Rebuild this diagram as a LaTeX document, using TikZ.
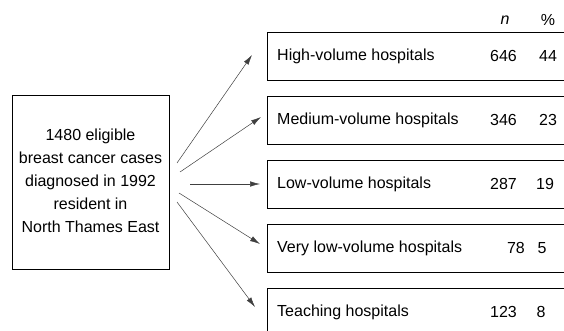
\documentclass[tikz,border=0pt]{standalone}
\usepackage{fontspec}
\setmainfont{Liberation Sans}
\usetikzlibrary{arrows.meta}
\begin{document}
\begin{tikzpicture}[x=1pt,y=-1pt,
  txt/.style={font=\fontsize{16}{23}\selectfont, inner sep=0pt},
  srcbox/.style={draw, line width=0.7pt, inner sep=0pt},
  grpbox/.style={draw, line width=0.7pt, minimum width=340pt, minimum height=48pt, anchor=north west, inner sep=0pt},
  flow/.style={draw=black!75, line width=0.5pt, -{Latex[length=10pt,width=5.5pt]}}]
\clip (0,0) rectangle (564,331);
\fill[white] (0,0) rectangle (564,331);
% source box
\node[srcbox, minimum width=157pt, minimum height=174pt] (src) at (90.5,182) {};
\node[txt, align=center] (srctxt) at (90.5,181) {1480 eligible\\breast cancer cases\\diagnosed in 1992\\resident in\\North Thames East};
% header
\node[txt, font=\fontsize{16}{23}\selectfont\itshape] (hn) at (505,20) {n};
\node[txt] (hp) at (548,20) {\%};
% group boxes
\node[grpbox] (b1) at (267,32) {};
\node[grpbox] (b2) at (267,96) {};
\node[grpbox] (b3) at (267,160) {};
\node[grpbox] (b4) at (267,224) {};
\node[grpbox] (b5) at (267,288) {};
% labels
\node[txt, anchor=west] (l1) at (277,56) {High-volume hospitals};
\node[txt, anchor=west] (l2) at (277,120) {Medium-volume hospitals};
\node[txt, anchor=west] (l3) at (277,184) {Low-volume hospitals};
\node[txt, anchor=west] (l4) at (277,248) {Very low-volume hospitals};
\node[txt, anchor=west] (l5) at (277,312) {Teaching hospitals};
% numbers
\node[txt, anchor=east] (n1) at (517,56) {646};
\node[txt, anchor=east] (n2) at (517,120) {346};
\node[txt, anchor=east] (n3) at (517,184) {287};
\node[txt, anchor=east] (n4) at (525,248) {78};
\node[txt, anchor=east] (n5) at (517,312) {123};
\node[txt] (p1) at (548,56) {44};
\node[txt] (p2) at (548,120) {23};
\node[txt] (p3) at (545,184) {19};
\node[txt] (p4) at (542,248) {5};
\node[txt] (p5) at (541,312) {8};
% arrow ends
\coordinate (s1) at (177,163); \coordinate (e1) at (252,55);
\coordinate (s2) at (180,172); \coordinate (e2) at (261,117);
\coordinate (s3) at (190,184); \coordinate (e3) at (260,184);
\coordinate (s4) at (179,193); \coordinate (e4) at (260,244);
\coordinate (s5) at (177,202); \coordinate (e5) at (255,307);
\draw[flow] (s1) -- (e1);
\draw[flow] (s2) -- (e2);
\draw[flow] (s3) -- (e3);
\draw[flow] (s4) -- (e4);
\draw[flow] (s5) -- (e5);
\end{tikzpicture}
\end{document}
